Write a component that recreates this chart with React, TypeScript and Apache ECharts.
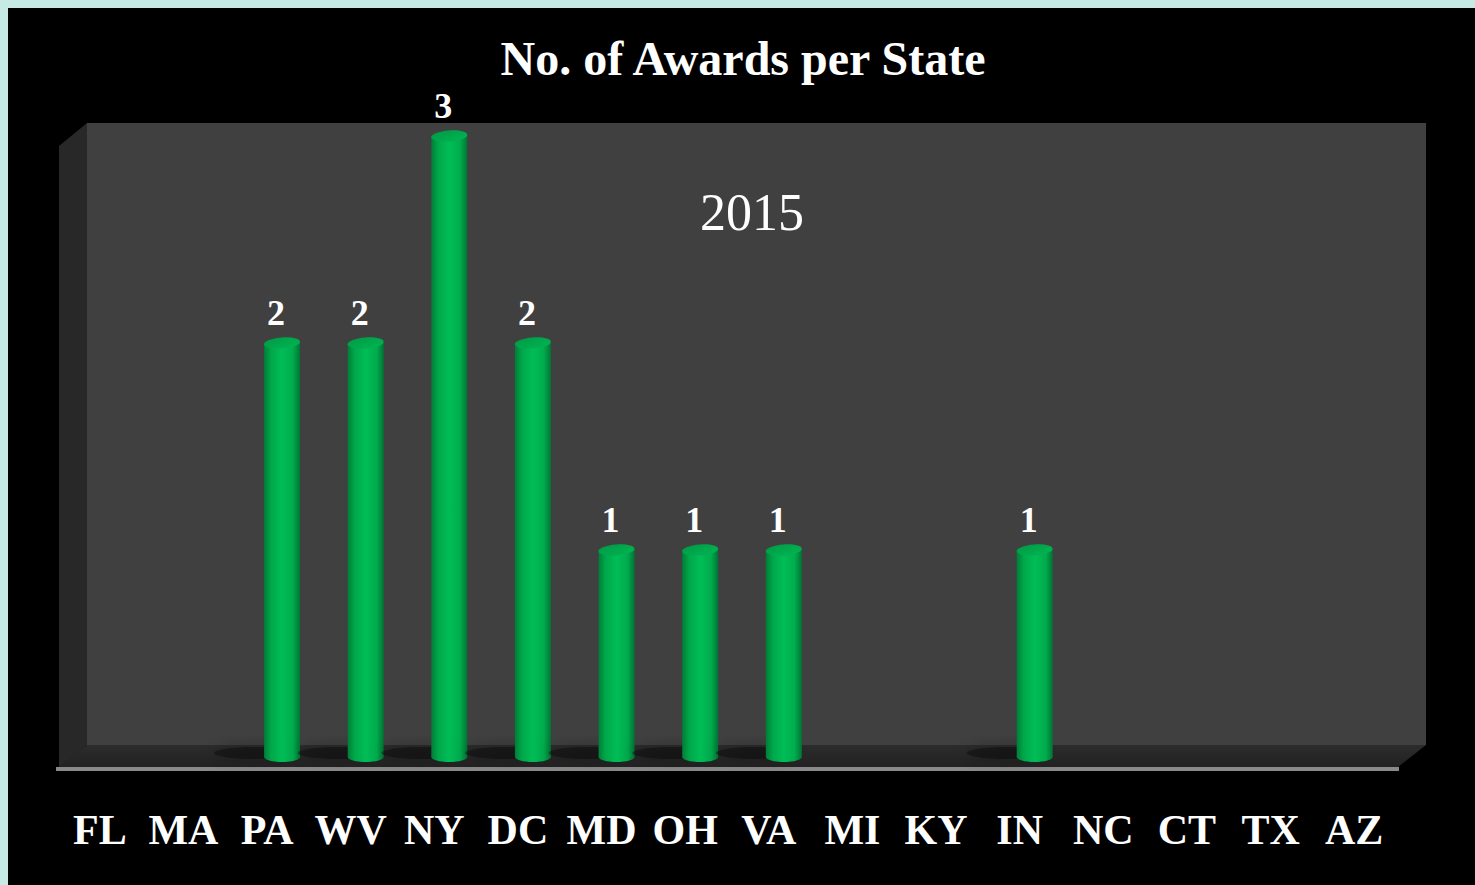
import React, { useEffect, useRef } from "react";
import * as echarts from "echarts";

const categories = ["FL", "MA", "PA", "WV", "NY", "DC", "MD", "OH", "VA", "MI", "KY", "IN", "NC", "CT", "TX", "AZ"];
const awards = [0, 0, 2, 2, 3, 2, 1, 1, 1, 0, 0, 1, 0, 0, 0, 0];
const chartTitle = "No. of Awards per State";
const yearLabel = "2015";

const SERIF = '"Liberation Serif", "Times New Roman", serif';

export default function App() {
  const ref = useRef<HTMLDivElement>(null);
  useEffect(() => {
    if (!ref.current) return;
    const chart = echarts.init(ref.current, null, { renderer: "svg" });
    const barGrad = {
      type: "linear", x: 0, y: 0, x2: 1, y2: 0,
      colorStops: [
        { offset: 0, color: "#007d37" },
        { offset: 0.2, color: "#00a84b" },
        { offset: 0.5, color: "#00bd56" },
        { offset: 0.8, color: "#00ac4d" },
        { offset: 1, color: "#007534" },
      ],
    };
    const option: any = {
      animation: false,
      backgroundColor: "#c6ebe4",
      grid: { left: 58, right: 79, top: 136, bottom: 128, containLabel: false },
      xAxis: {
        type: "category",
        data: categories,
        axisLine: { show: false },
        axisTick: { show: false },
        axisLabel: {
          color: "#ffffff",
          fontFamily: SERIF,
          fontWeight: "bold",
          fontSize: 42,
          margin: 52,
          interval: 0,
        },
      },
      yAxis: {
        type: "value",
        min: 0,
        max: 3,
        show: false,
        splitLine: { show: false },
      },
      graphic: [
        { type: "rect", z: -10, shape: { x: 8, y: 8, width: 1467, height: 877 }, style: { fill: "#000000" } },
        { type: "rect", z: -9, shape: { x: 87, y: 123, width: 1339, height: 622 }, style: { fill: "#404040" } },
        {
          type: "polygon", z: -9,
          shape: { points: [[87, 123], [59, 146], [59, 767], [87, 745]] },
          style: { fill: "#282828" },
        },
        {
          type: "polygon", z: -9,
          shape: { points: [[87, 745], [1426, 745], [1398, 767], [58, 767]] },
          style: {
            fill: {
              type: "linear", x: 0, y: 0, x2: 0, y2: 1,
              colorStops: [
                { offset: 0, color: "#2c2c2c" },
                { offset: 1, color: "#222222" },
              ],
            },
          },
        },
        { type: "rect", z: -8, shape: { x: 56, y: 767, width: 1343, height: 4 }, style: { fill: "#8a8a8a" } },
        {
          type: "text", z: 5, x: 743, y: 58,
          style: {
            text: chartTitle, fill: "#ffffff", font: `bold 48px ${SERIF}`,
            textAlign: "center", textVerticalAlign: "middle",
          },
        },
        {
          type: "text", z: 5, x: 752, y: 212,
          style: {
            text: yearLabel, fill: "#ffffff", font: `52px ${SERIF}`,
            textAlign: "center", textVerticalAlign: "middle",
          },
        },
      ],
      series: [
        {
          type: "custom",
          data: awards.map((v, i) => [i, v]),
          renderItem: (params: any, api: any) => {
            const idx = api.value(0);
            const val = api.value(1);
            if (!val) return null;
            const base = api.coord([idx, 0]);
            const top = api.coord([idx, val]);
            const cx = top[0] + 15;
            const rx = 18;
            return {
              type: "group",
              children: [
                {
                  type: "ellipse",
                  shape: { cx: cx - 28, cy: base[1] - 4, rx: 40, ry: 6 },
                  style: { fill: "rgba(0,0,0,0.35)", shadowBlur: 16, shadowColor: "rgba(0,0,0,0.9)" },
                },
                {
                  type: "ellipse",
                  shape: { cx, cy: base[1], rx, ry: 5 },
                  style: { fill: barGrad },
                },
                {
                  type: "rect",
                  shape: { x: cx - rx, y: top[1], width: rx * 2, height: base[1] - top[1] },
                  style: { fill: barGrad },
                },
                {
                  type: "ellipse",
                  x: cx, y: top[1], rotation: 0.07,
                  shape: { cx: 0, cy: 0, rx, ry: 5.5 },
                  style: {
                    fill: {
                      type: "linear", x: 0, y: 0, x2: 1, y2: 1,
                      colorStops: [
                        { offset: 0, color: "#009a45" },
                        { offset: 1, color: "#00b552" },
                      ],
                    },
                  },
                },
                {
                  type: "text",
                  x: cx - 6, y: top[1] - 30,
                  style: {
                    text: String(val), fill: "#ffffff", font: `bold 36px ${SERIF}`,
                    textAlign: "center", textVerticalAlign: "middle",
                  },
                },
              ],
            };
          },
        },
      ],
    };
    chart.setOption(option);
    return () => chart.dispose();
  }, []);
  return (
    <div
      ref={ref}
      style={{ position: "fixed", left: 0, top: 0, width: 1475, height: 885 }}
    />
  );
}
